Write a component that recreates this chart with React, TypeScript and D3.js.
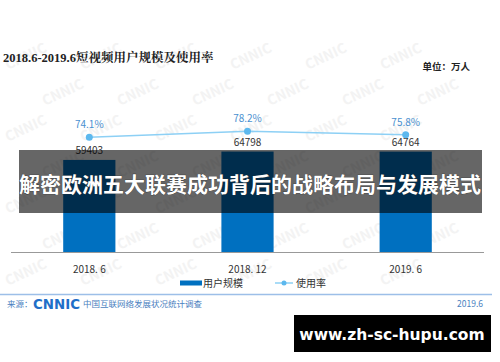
import React, { useEffect, useRef } from "react";
import * as d3 from "d3";

const categories = ["2018. 6", "2018. 12", "2019. 6"];
const users = [59403, 64798, 64764];
const rates = [74.1, 78.2, 75.8];
const legendLabels = ["用户规模", "使用率"];

const W = 500;
const H = 362;
const FONT = "'Noto Sans CJK SC', 'Noto Sans', sans-serif";

function App() {
  const ref = useRef<SVGSVGElement>(null);

  useEffect(() => {
    const svg = d3.select(ref.current);
    svg.selectAll("*").remove();

    svg.append("rect").attr("width", W).attr("height", H).attr("fill", "#fff");

    // faint watermark
    const wm = svg.append("g").attr("fill", "#f3f3f3").attr("font-family", FONT)
      .attr("font-weight", "bold").attr("font-size", 14);
    d3.range(0, 7).forEach((r) => {
      d3.range(0, 7).forEach((c) => {
        const x = 8 + c * 75 + (r % 2) * 37;
        const y = 70 + r * 36;
        if (x > 440) return;
        wm.append("text").attr("x", x).attr("y", y)
          .attr("transform", `rotate(-25,${x},${y})`).text("CNNIC");
      });
    });

    // title
    svg.append("text").attr("x", 3).attr("y", 62)
      .attr("font-family", "'Liberation Serif', 'Noto Serif CJK SC', serif")
      .attr("font-weight", "bold").attr("font-size", 12.5).attr("fill", "#222")
      .text("2018.6-2019.6短视频用户规模及使用率");
    svg.append("text").attr("x", 470).attr("y", 70).attr("text-anchor", "end")
      .attr("font-family", FONT).attr("font-weight", "bold").attr("font-size", 9.5)
      .attr("fill", "#222").text("单位：万人");

    const x = d3.scaleBand().domain(categories).range([11, 484]).paddingInner(0.67).paddingOuter(0.33);
    const y = d3.scaleLinear().domain([0, 100000]).range([252, 97]);
    const yr = d3.scaleLinear().domain([0, 100]).range([245.5, 99.5]);

    const g = svg.append("g");
    g.selectAll("rect.bar").data(users).join("rect").attr("class", "bar")
      .attr("x", (_, i) => x(categories[i])!)
      .attr("width", x.bandwidth())
      .attr("y", (d) => y(d)).attr("height", (d) => y(0) - y(d))
      .attr("fill", "#0070c0");

    g.append("line").attr("x1", 11).attr("x2", 484).attr("y1", 252.5).attr("y2", 252.5)
      .attr("stroke", "#999").attr("stroke-width", 1.2);

    const cx = (i: number) => x(categories[i])! + x.bandwidth() / 2;

    g.selectAll("text.val").data(users).join("text").attr("class", "val")
      .attr("x", (_, i) => cx(i)).attr("y", (d) => y(d) - 6)
      .attr("text-anchor", "middle").attr("font-family", FONT).attr("font-size", 10)
      .attr("fill", "#333").text((d) => d);

    const line = d3.line<number>().x((_, i) => cx(i)).y((d) => yr(d));
    g.append("path").attr("d", line(rates)!).attr("fill", "none")
      .attr("stroke", "#8dd0f5").attr("stroke-width", 1.5);
    g.selectAll("circle.pt").data(rates).join("circle").attr("class", "pt")
      .attr("cx", (_, i) => cx(i)).attr("cy", (d) => yr(d)).attr("r", 3.5)
      .attr("fill", "#5cb8ee");
    g.selectAll("text.rate").data(rates).join("text").attr("class", "rate")
      .attr("x", (_, i) => cx(i)).attr("y", (d) => yr(d) - 9)
      .attr("text-anchor", "middle").attr("font-family", FONT).attr("font-size", 10)
      .attr("fill", "#4a90d0").text((d) => d.toFixed(1) + "%");

    g.selectAll("text.cat").data(categories).join("text").attr("class", "cat")
      .attr("x", (_, i) => cx(i)).attr("y", 273)
      .attr("text-anchor", "middle").attr("font-family", FONT).attr("font-size", 10)
      .attr("fill", "#333").text((d) => d);

    // legend
    const lg = svg.append("g").attr("font-family", FONT).attr("font-size", 10).attr("fill", "#333");
    lg.append("rect").attr("x", 180).attr("y", 280.5).attr("width", 22).attr("height", 5).attr("fill", "#0070c0");
    lg.append("text").attr("x", 203).attr("y", 287).text(legendLabels[0]);
    lg.append("line").attr("x1", 275).attr("x2", 293).attr("y1", 283).attr("y2", 283)
      .attr("stroke", "#8dd0f5").attr("stroke-width", 1.5);
    lg.append("circle").attr("cx", 284).attr("cy", 283).attr("r", 2.5).attr("fill", "#5cb8ee");
    lg.append("text").attr("x", 296).attr("y", 287).text(legendLabels[1]);

    // footer
    svg.append("line").attr("x1", 0).attr("x2", 492).attr("y1", 294.5).attr("y2", 294.5)
      .attr("stroke", "#9dbfe8").attr("stroke-width", 1.5);
    svg.append("text").attr("x", 7).attr("y", 307).attr("font-family", FONT)
      .attr("font-size", 8.5).attr("fill", "#4a7fc0").text("来源：");
    svg.append("text").attr("x", 33).attr("y", 308.5).attr("font-family", "'DejaVu Sans', sans-serif")
      .attr("font-weight", "bold").attr("font-size", 14).attr("fill", "#1f6fc8")
      .attr("textLength", 47).attr("lengthAdjust", "spacingAndGlyphs").text("CNNIC");
    svg.append("text").attr("x", 83).attr("y", 307).attr("font-family", FONT)
      .attr("font-size", 8.5).attr("fill", "#4a7fc0").text("中国互联网络发展状况统计调查");
    svg.append("text").attr("x", 483).attr("y", 307).attr("text-anchor", "end")
      .attr("font-family", FONT).attr("font-size", 8.5).attr("fill", "#4a7fc0").text("2019.6");

    // overlay banner
    svg.append("rect").attr("x", 19).attr("y", 150).attr("width", 463).attr("height", 63)
      .attr("fill", "rgba(0,0,0,0.6)");
    svg.append("text").attr("x", 250).attr("y", 191.5).attr("text-anchor", "middle")
      .attr("font-family", FONT).attr("font-weight", "bold").attr("font-size", 21)
      .attr("fill", "#fff").attr("stroke", "#333").attr("stroke-width", 0.6)
      .attr("paint-order", "stroke")
      .text("解密欧洲五大联赛成功背后的战略布局与发展模式");

    // url box
    svg.append("rect").attr("x", 294).attr("y", 315).attr("width", 197).attr("height", 37).attr("fill", "#000");
    svg.append("text").attr("x", 392).attr("y", 339.5).attr("text-anchor", "middle")
      .attr("font-family", "'DejaVu Sans', sans-serif").attr("font-weight", "bold")
      .attr("font-size", 15.5).attr("fill", "#fff").text("www.zh-sc-hupu.com");
  }, []);

  return (
    <svg ref={ref} width={W} height={H}
      style={{ position: "absolute", left: 0, top: 0, display: "block" }} />
  );
}

export default App;
